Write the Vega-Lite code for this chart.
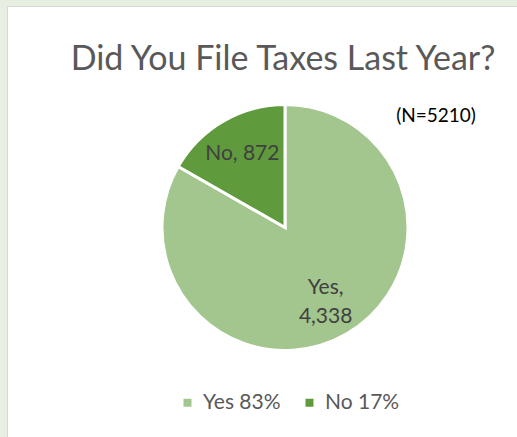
{
  "$schema": "https://vega.github.io/schema/vega-lite/v6.json",
  "width": 517,
  "height": 437,
  "autosize": {"type": "fit", "contains": "padding"},
  "padding": {"left": 7, "top": 6, "right": 0, "bottom": 0},
  "background": "#e7eee2",
  "view": {"fill": "white", "stroke": "#d5d9d2", "strokeWidth": 1},
  "config": {"font": "Lato"},
  "title": {"text": "Did You File Taxes Last Year?", "fontSize": 34, "font": "Lato", "fontWeight": "normal", "color": "#595959", "anchor": "middle", "offset": -71, "dx": 21},
  "datasets": {
    "slices": [
      {"answer": "Yes", "count": 4338, "k": 1, "label": "Yes,\n4,338", "legend": "Yes 83%"},
      {"answer": "No", "count": 872, "k": 2, "label": "No, 872", "legend": "No 17%"}
    ],
    "note": [{"note": "(N=5210)"}]
  },
  "layer": [
    {
      "data": {"name": "slices"},
      "mark": {"type": "arc", "outerRadius": 123, "stroke": "white", "strokeWidth": 3, "xOffset": 23, "yOffset": 6},
      "encoding": {
        "theta": {"field": "count", "type": "quantitative", "stack": true},
        "order": {"field": "k"},
        "color": {
          "field": "legend", "type": "nominal",
          "scale": {"domain": ["Yes 83%", "No 17%"], "range": ["#a3c68f", "#5f9a3c"]},
          "legend": {"title": null, "orient": "none", "direction": "horizontal", "legendX": 170, "legendY": 386, "symbolType": "square", "symbolSize": 64, "symbolStrokeWidth": 0, "labelFontSize": 21, "labelFont": "Lato", "labelColor": "#595959", "labelOffset": 5, "columnPadding": 18, "padding": 0}
        }
      }
    },
    {
      "data": {"name": "slices"},
      "mark": {"type": "text", "radius": 85, "fontSize": 21, "color": "#404040", "xOffset": 23, "yOffset": 6},
      "encoding": {
        "theta": {"field": "count", "type": "quantitative", "stack": true},
        "order": {"field": "k"},
        "text": {"condition": {"test": "datum.answer === 'No'", "field": "label"}, "value": ""}
      }
    },
    {
      "data": {"name": "slices"},
      "mark": {"type": "text", "radius": 73, "fontSize": 21, "color": "#404040", "lineBreak": "\n", "lineHeight": 29, "xOffset": 27, "yOffset": 3},
      "encoding": {
        "theta": {"field": "count", "type": "quantitative", "stack": true},
        "order": {"field": "k"},
        "text": {"condition": {"test": "datum.answer === 'Yes'", "field": "label"}, "value": ""}
      }
    },
    {
      "data": {"name": "note"},
      "mark": {"type": "text", "fontSize": 19, "color": "#000000", "x": 429, "y": 110},
      "encoding": {"text": {"field": "note"}}
    }
  ]
}
